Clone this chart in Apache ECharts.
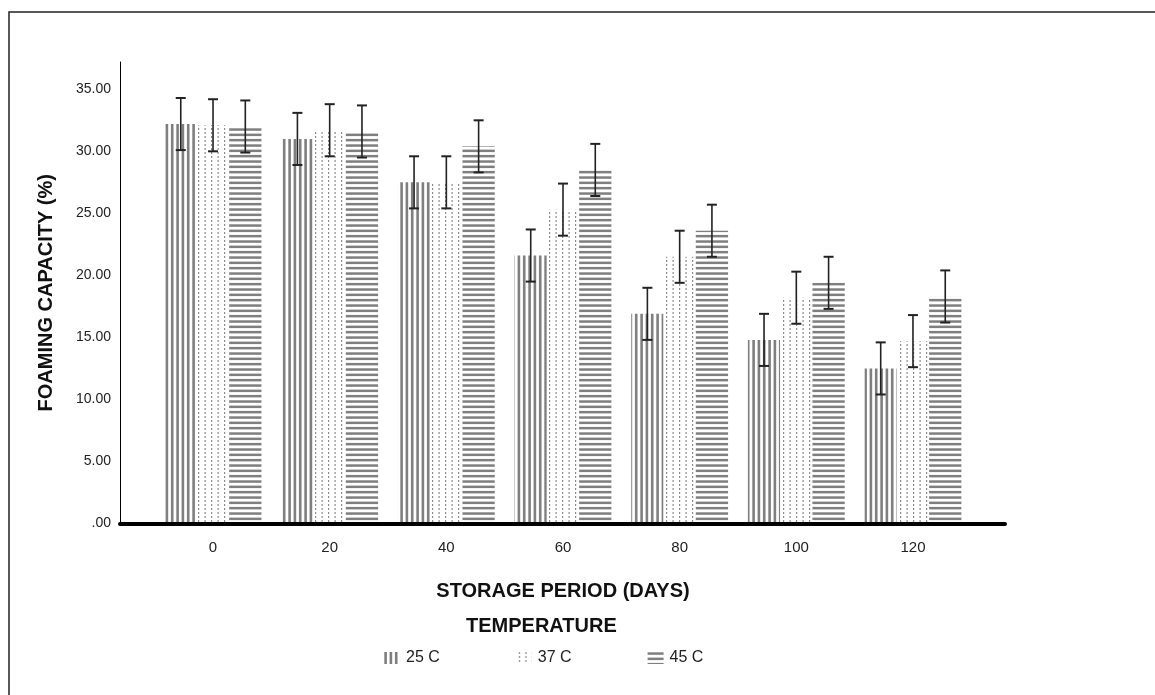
<!DOCTYPE html>
<html>
<head>
<meta charset="utf-8">
<script src="https://cdn.jsdelivr.net/npm/echarts@6/dist/echarts.min.js"></script>
<style>
  html, body { margin: 0; padding: 0; background: #fff; }
  #chart { width: 1155px; height: 695px; }
</style>
</head>
<body>
<div id="chart"></div>
<script>
// storage period (days)
const categories = ['0', '20', '40', '60', '80', '100', '120'];
const seriesNames = ['25 C', '37 C', '45 C'];
// foaming capacity (%) per temperature
const fc25 = [32.2, 31.0, 27.5, 21.6, 16.9, 14.8, 12.5];
const fc37 = [32.1, 31.7, 27.5, 25.3, 21.5, 18.2, 14.7];
const fc45 = [32.0, 31.6, 30.4, 28.5, 23.6, 19.4, 18.3];
// error bar half widths
const err25 = [2.1, 2.1, 2.1, 2.1, 2.1, 2.1, 2.1];
const err37 = [2.1, 2.1, 2.1, 2.1, 2.1, 2.1, 2.1];
const err45 = [2.1, 2.1, 2.1, 2.1, 2.1, 2.1, 2.1];
const yTicks = [0, 5, 10, 15, 20, 25, 30, 35];

const FONT = '"Liberation Sans", Arial, sans-serif';
const GAP = 0.17;

// fill patterns like the spss bars
function makePattern(kind) {
  const c = document.createElement('canvas');
  const ctx = c.getContext('2d');
  if (kind === 'v') {
    c.width = 16; c.height = 4;
    ctx.fillStyle = '#fff'; ctx.fillRect(0, 0, 16, 4);
    ctx.fillStyle = '#7f7f7f';
    [0.3, 5.6, 10.9].forEach(x => ctx.fillRect(x, 0, 2.6, 4));
  } else if (kind === 'd') {
    c.width = 13; c.height = 4;
    ctx.fillStyle = '#fff'; ctx.fillRect(0, 0, 13, 4);
    ctx.fillStyle = '#8c8c8c';
    ctx.fillRect(3, 0, 1.2, 2);
    ctx.fillRect(9.5, 0, 1.2, 2);
  } else {
    c.width = 4; c.height = 16;
    ctx.fillStyle = '#fff'; ctx.fillRect(0, 0, 4, 16);
    ctx.fillStyle = '#7f7f7f';
    [0.3, 5.6, 10.9].forEach(y => ctx.fillRect(0, y, 4, 2.5));
  }
  return { image: c, repeat: 'repeat' };
}
const patterns = [makePattern('v'), makePattern('d'), makePattern('h')];

const values = [fc25, fc37, fc45];
const errors = [err25, err37, err45];

function barSeries(i) {
  return {
    name: seriesNames[i],
    type: 'bar',
    xAxisIndex: 1,
    yAxisIndex: 1,
    barGap: '0%',
    barCategoryGap: (GAP * 100) + '%',
    itemStyle: { color: patterns[i] },
    emphasis: { disabled: true },
    data: values[i]
  };
}

function errSeries(i) {
  return {
    name: seriesNames[i] + ' err',
    type: 'custom',
    xAxisIndex: 1,
    yAxisIndex: 1,
    z: 5,
    silent: true,
    data: values[i].map((v, k) => [k, v, errors[i][k]]),
    renderItem: function (params, api) {
      const c = api.value(0), v = api.value(1), e = api.value(2);
      const band = api.size([1, 0])[0];
      const w = band * (1 - GAP) / 3;
      const x = api.coord([c, v])[0] + (i - 1) * w;
      const top = api.coord([c, v + e])[1];
      const bot = api.coord([c, v - e])[1];
      const cap = { stroke: '#222', lineWidth: 2 };
      return {
        type: 'group',
        children: [
          { type: 'line', shape: { x1: x, y1: top, x2: x, y2: bot }, style: { stroke: '#222', lineWidth: 1.6 } },
          { type: 'line', shape: { x1: x - 5, y1: top, x2: x + 5, y2: top }, style: cap },
          { type: 'line', shape: { x1: x - 5, y1: bot, x2: x + 5, y2: bot }, style: cap }
        ]
      };
    }
  };
}

const chart = echarts.init(document.getElementById('chart'), null, { renderer: 'canvas' });
const yMax = 37.2;

const option = {
  backgroundColor: '#fff',
  animation: false,
  textStyle: { fontFamily: FONT },
  graphic: [{
    type: 'rect',
    shape: { x: 9, y: 12, width: 1300, height: 900 },
    style: { fill: 'none', stroke: '#222', lineWidth: 1.5 },
    silent: true
  }],
  title: {
    text: 'TEMPERATURE',
    left: 466,
    top: 616,
    padding: 0,
    textStyle: { fontFamily: FONT, fontSize: 20, fontWeight: 'bold', color: '#111' }
  },
  legend: {
    data: seriesNames,
    left: 384,
    top: 650,
    padding: 0,
    icon: 'rect',
    itemWidth: 16,
    itemHeight: 12,
    itemGap: 76,
    itemStyle: { borderWidth: 0 },
    textStyle: { fontFamily: FONT, fontSize: 16, color: '#222', padding: [2, 0, 0, 1] }
  },
  grid: [
    { left: 120, right: 150, top: 62, bottom: 171.5 },
    { left: 154.7, right: 183.7, top: 62, bottom: 171.5 }
  ],
  xAxis: [
    {
      type: 'value', gridIndex: 0, min: 0, max: 1, z: 10,
      axisLine: { show: true, onZero: false, lineStyle: { color: '#000', width: 4 } },
      axisTick: { show: false }, axisLabel: { show: false }, splitLine: { show: false }
    },
    {
      type: 'category', gridIndex: 1, data: categories,
      axisLine: { show: false }, axisTick: { show: false },
      axisLabel: { fontFamily: FONT, fontSize: 15, color: '#222', margin: 17 },
      name: 'STORAGE PERIOD (DAYS)',
      nameLocation: 'middle',
      nameGap: 58,
      nameTextStyle: { fontFamily: FONT, fontSize: 20, fontWeight: 'bold', color: '#111' }
    }
  ],
  yAxis: [
    {
      type: 'value', gridIndex: 0, min: 0, max: yMax, interval: 5,
      axisLine: { show: true, lineStyle: { color: '#000', width: 1 } },
      axisTick: { show: false },
      splitLine: { show: false },
      axisLabel: {
        showMaxLabel: false,
        margin: 9,
        fontFamily: FONT, fontSize: 14, color: '#222',
        formatter: v => yTicks.indexOf(v) < 0 ? '' : (v === 0 ? '.00' : v.toFixed(2))
      },
      name: 'FOAMING CAPACITY (%)',
      nameLocation: 'middle',
      nameGap: 64,
      nameTextStyle: { fontFamily: FONT, fontSize: 20, fontWeight: 'bold', color: '#111' }
    },
    {
      type: 'value', gridIndex: 1, min: 0, max: yMax, interval: 5, show: false
    }
  ],
  series: [barSeries(0), barSeries(1), barSeries(2), errSeries(0), errSeries(1), errSeries(2)]
};

chart.setOption(option);
</script>
</body>
</html>
